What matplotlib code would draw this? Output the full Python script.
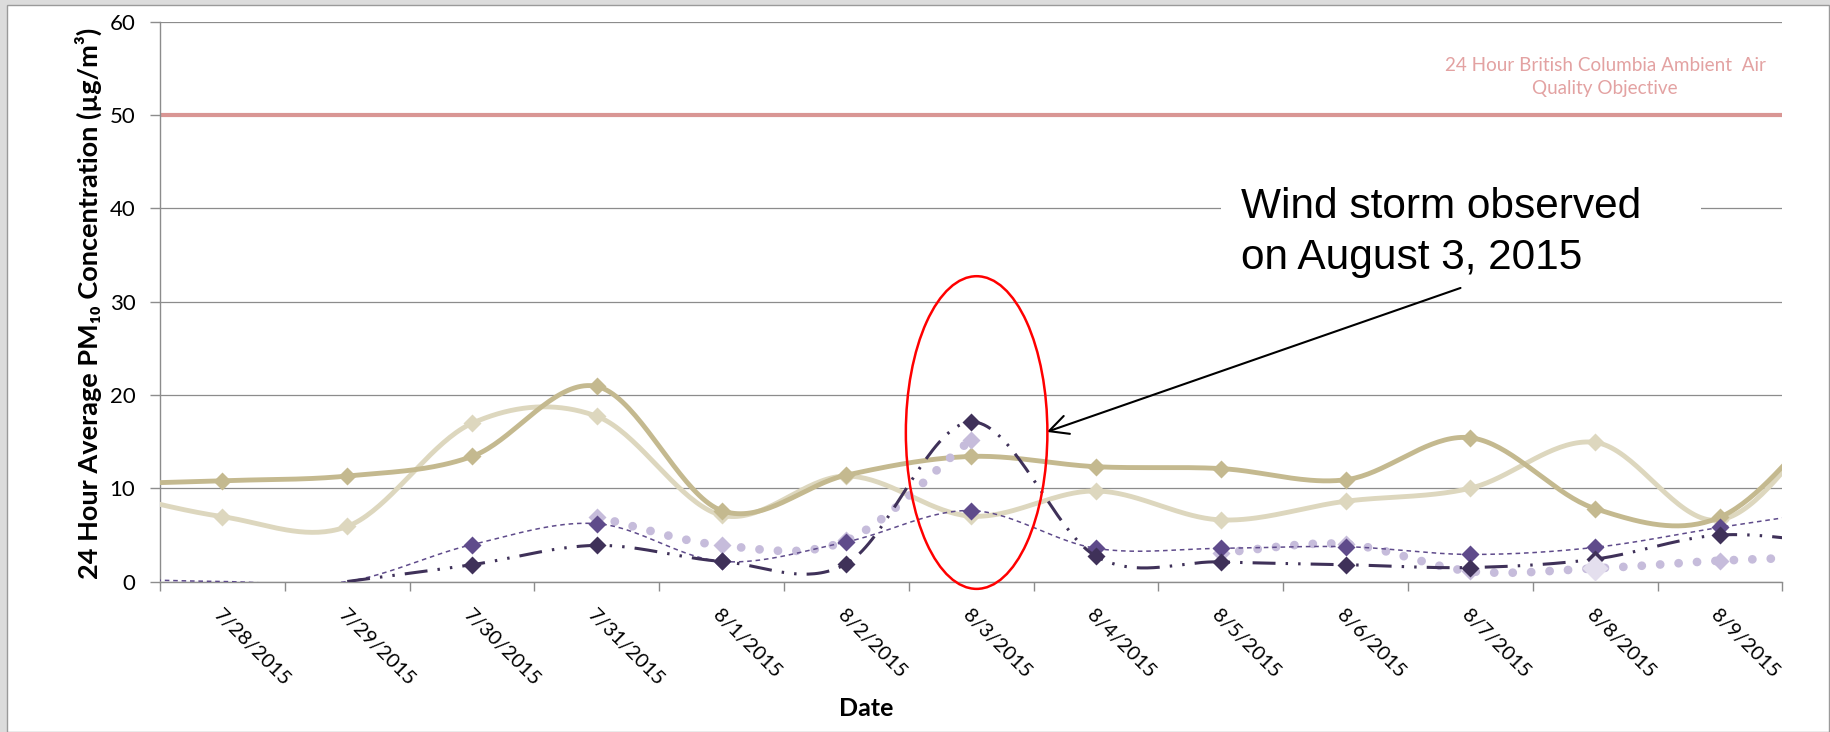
import numpy as np
import matplotlib.pyplot as plt
from matplotlib.patches import Ellipse, Rectangle

plt.rcParams['font.family'] = ['Lato', 'DejaVu Sans']

# 日期：7/27 和 8/10 在坐标轴之外，只用来让平滑曲线延伸到两侧边缘
dates = ['7/27/2015', '7/28/2015', '7/29/2015', '7/30/2015', '7/31/2015',
         '8/1/2015', '8/2/2015', '8/3/2015', '8/4/2015', '8/5/2015',
         '8/6/2015', '8/7/2015', '8/8/2015', '8/9/2015', '8/10/2015']

# 各站点的 24 小时平均 PM10 (µg/m³)
dark_tan = [10.4, 10.8, 11.3, 13.4, 20.9, 7.6, 11.4, 13.4, 12.3, 12.1, 10.9, 15.4, 7.8, 6.9, 19.4]
light_tan = [9.8, 6.95, 5.9, 16.95, 17.7, 7.1, 11.3, 7.0, 9.7, 6.6, 8.6, 10.0, 14.9, 6.6, 19.5]
purple = [0.3, 0, 0, 3.95, 6.2, 2.15, 4.25, 7.6, 3.55, 3.55, 3.73, 2.9, 3.66, 5.8, 7.8]
dark_purple = [np.nan, np.nan, 0, 1.8, 3.87, 2.15, 1.9, 17.1, 2.7, 2.1, 1.8, 1.5, 2.4, 4.98, 3.95]
lilac = [np.nan, np.nan, np.nan, np.nan, 6.9, 3.87, 4.4, 15.2, np.nan, 3.1, 4.0, 1.1, 1.4, 2.23, 2.7]

objective = 50
highlight_day = '8/8/2015'
storm_day = '8/3/2015'


def smooth(ys, n=40):
    # 仿 Excel 平滑线：Catmull-Rom 样条，缺测值处断开
    ys = np.asarray(ys, float)
    xs = np.arange(len(ys), dtype=float)
    idx = np.where(~np.isnan(ys))[0]
    runs = np.split(idx, np.where(np.diff(idx) > 1)[0] + 1)
    out_x, out_y = [], []
    t = np.linspace(0, 1, n)
    h00 = 2 * t**3 - 3 * t**2 + 1
    h10 = t**3 - 2 * t**2 + t
    h01 = -2 * t**3 + 3 * t**2
    h11 = t**3 - t**2
    for r in runs:
        if len(r) < 2:
            continue
        y = ys[r]
        m = np.gradient(y)
        for k in range(len(r) - 1):
            out_x.append(xs[r[k]] + t)
            out_y.append(h00 * y[k] + h10 * m[k] + h01 * y[k + 1] + h11 * m[k + 1])
        out_x.append([np.nan])
        out_y.append([np.nan])
    return np.concatenate(out_x), np.concatenate(out_y)


W, H = 1831, 732
fig = plt.figure(figsize=(W / 100, H / 100), dpi=100)
fig.patch.set_facecolor('#dcdcdc')
fig.add_artist(Rectangle((7 / W, 0), (1829 - 7) / W, (H - 4.5) / H, transform=fig.transFigure,
                         facecolor='white', edgecolor='#9a9a9a', lw=1.0, zorder=0))

ax = fig.add_axes([160 / W, 1 - 581.5 / H, (1782.5 - 160) / W, (581.5 - 21.5) / H])
ax.patch.set_alpha(0)
x = np.arange(len(dates))

# 线条
ms = 9
series = [
    (light_tan, dict(color='#ddd7be', lw=3.5), dict(color='#ddd7be', ms=ms)),
    (dark_tan, dict(color='#c4b98f', lw=3.5), dict(color='#c4b98f', ms=ms)),
    (lilac, dict(color='#c6bcdb', lw=6.3, linestyle=(0, (0.01, 2.1)), dash_capstyle='round'),
     dict(color='#c6bcdb', ms=ms)),
    (purple, dict(color='#5f4b8b', lw=1.1, linestyle=(0, (3, 2.5))), dict(color='#5f4b8b', ms=ms)),
    (dark_purple, dict(color='#3f3159', lw=2.2, linestyle=(0, (7.5, 3.3, 0.8, 3.3, 0.8, 3.3))),
     dict(color='#3f3159', ms=ms)),
]
for z, (vals, lstyle, mstyle) in enumerate(series):
    sx, sy = smooth(vals)
    ax.plot(sx, sy, zorder=3 + z, solid_capstyle='round', **lstyle)
    v = np.asarray(vals, float)
    keep = v > 0
    ax.plot(x[keep], v[keep], 'D', mec='none', zorder=3 + z, **mstyle)

# 8/8 的浅色大菱形
hi = dates.index(highlight_day)
ax.plot(hi, lilac[hi], 'D', color='#e4dfee', mec='none', ms=13, zorder=8)

# 空气质量目标线
ax.axhline(objective, color='#d99694', lw=3.0, zorder=2)
ax.text(12.08, 56.2, '24 Hour British Columbia Ambient  Air\nQuality Objective',
        ha='center', va='top', fontsize=13.6, color='#e3a2a2', linespacing=1.4)

# 坐标轴
ax.set_xlim(0.5, 13.5)
ax.set_ylim(0, 60)
ax.set_yticks(range(0, 61, 10))
ax.set_xticks(x[1:-1])
ax.set_xticklabels(dates[1:-1], rotation=-45, ha='left', va='top', rotation_mode='anchor',
                   fontsize=14.5)
ax.set_xticks(np.arange(0.5, 13.6, 1), minor=True)
ax.tick_params(axis='x', which='major', length=0, pad=18)
ax.tick_params(axis='x', which='minor', length=6.5, color='#8c8c8c', width=1)
ax.tick_params(axis='y', length=7.2, color='#8c8c8c', width=1, pad=10.5, labelsize=16)
ax.set_axisbelow(True)
ax.yaxis.grid(True, color='#8c8c8c', lw=0.9)
for s in ['top', 'right']:
    ax.spines[s].set_visible(False)
for s in ['left', 'bottom']:
    ax.spines[s].set_color('#8c8c8c')
    ax.spines[s].set_linewidth(1)

fig.text(88 / W, 1 - 303 / H, '24 Hour Average PM₁₀ Concentration (µg/m³)', rotation=90,
         ha='center', va='center', fontsize=19.5, fontweight='bold')
fig.text(866 / W, 1 - 708 / H, 'Date', ha='center', va='center', fontsize=18, fontweight='bold')

# 注释：风暴
sd = dates.index(storm_day)
ax.add_patch(Rectangle((9.0, 31.5), 3.85, 12.5, facecolor='white', edgecolor='none', zorder=1))
ax.text(9.16, 42.3, 'Wind storm observed\non August 3, 2015', ha='left', va='top',
        fontsize=30.5, family='Liberation Sans', linespacing=1.35, zorder=9)
ax.annotate('', xy=(sd + 0.605, 16.03), xytext=(10.92, 31.45),
            arrowprops=dict(arrowstyle='->', lw=1.5, color='black', mutation_scale=34,
                            shrinkA=0, shrinkB=0), zorder=9)
ax.add_patch(Ellipse((sd + 0.043, 15.96), 1.134, 33.5, fill=False, edgecolor='red', lw=1.8,
                     clip_on=False, zorder=10))

fig.savefig('out.png', dpi=100)
